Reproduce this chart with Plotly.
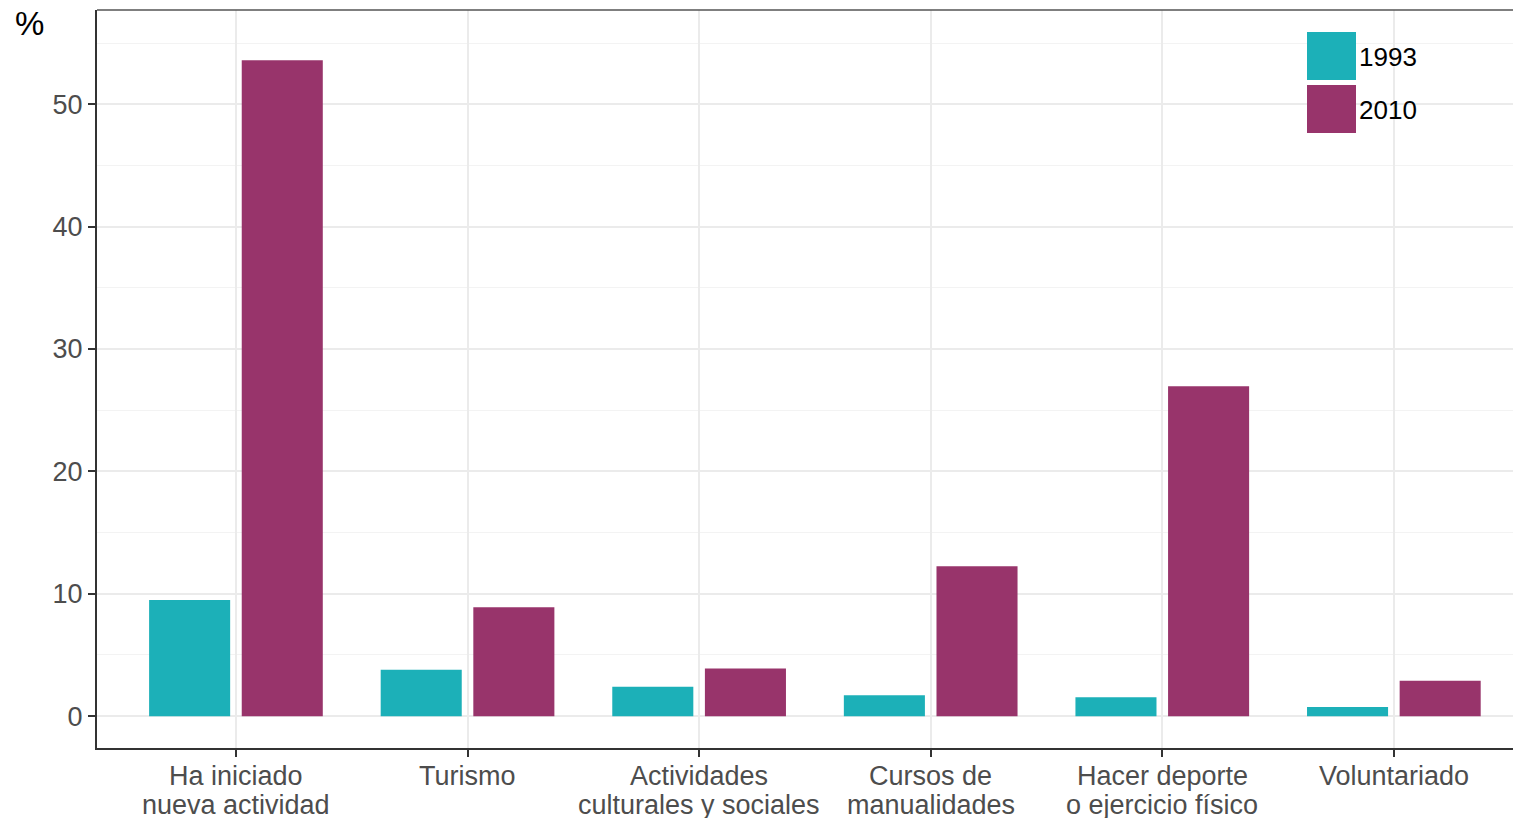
import plotly.graph_objects as go

# Datos
categorias = ['Ha iniciado\nnueva actividad', 'Turismo', 'Actividades\nculturales y sociales',
              'Cursos de\nmanualidades', 'Hacer deporte\no ejercicio físico', 'Voluntariado']
series = ['1993', '2010']
valores_1993 = [9.5, 3.8, 2.4, 1.7, 1.55, 0.75]
valores_2010 = [53.6, 8.9, 3.9, 12.25, 26.95, 2.9]
ticks_y = [0, 10, 20, 30, 40, 50]

COLOR_1993 = '#1cb0b8'
COLOR_2010 = '#98346b'
COLOR_GRID = '#ebebeb'
COLOR_MINOR = '#f3f3f3'
COLOR_AXIS = '#333333'
COLOR_TICK = '#4d4d4d'
FONT = 'Liberation Sans, Arial, sans-serif'

# el cuerpo de la pagina tiene un margen de 8px
W, H = 1513, 810
PLOT_L, PLOT_T, PLOT_W, PLOT_H = 97, 10, 1424, 738  # en pixeles de pantalla


def px_x(sx):
    return (sx - PLOT_L) / PLOT_W


def px_y(sy):
    return 1 - (sy - PLOT_T) / PLOT_H


fig = go.Figure()
for nombre, vals, color in [(series[0], valores_1993, COLOR_1993), (series[1], valores_2010, COLOR_2010)]:
    fig.add_trace(go.Bar(x=categorias, y=vals, name=nombre, marker=dict(color=color, line_width=0),
                         showlegend=False,
                         hovertemplate='%{y}<extra>' + nombre + '</extra>'))

fig.update_layout(
    width=W, height=H,
    margin=dict(l=PLOT_L - 8, r=0, t=PLOT_T - 8, b=H - (PLOT_T - 8) - PLOT_H),
    paper_bgcolor='white', plot_bgcolor='white',
    barmode='group', bargap=0.2, bargroupgap=0.125,
    font=dict(family=FONT, size=27, color=COLOR_TICK),
)

fig.update_xaxes(
    range=[-0.6, 5.549],
    showline=True, linecolor=COLOR_AXIS, linewidth=2,
    ticks='outside', ticklen=7, tickwidth=2, tickcolor=COLOR_AXIS,
    showgrid=True, gridcolor=COLOR_GRID, gridwidth=1.5,
    showticklabels=False,
)
fig.update_yaxes(
    range=[-2.6, 57.7],
    tickvals=ticks_y,
    showline=True, linecolor=COLOR_AXIS, linewidth=2,
    ticks='outside', ticklen=7, tickwidth=2, tickcolor=COLOR_AXIS,
    showgrid=True, gridcolor=COLOR_GRID, gridwidth=1.5,
    zeroline=False,
    minor=dict(dtick=5, tick0=5, showgrid=True, gridcolor=COLOR_MINOR, gridwidth=1),
    tickfont=dict(size=27, color=COLOR_TICK),
)

# Etiquetas del eje x en dos lineas (interlineado mas apretado que el de plotly)
for cat in categorias:
    for j, linea in enumerate(cat.split('\n')):
        fig.add_annotation(text=linea, x=cat, xref='x', yref='paper', y=0,
                           xanchor='center', yanchor='middle', showarrow=False,
                           yshift=-28 - 29 * j,
                           font=dict(size=27, color=COLOR_TICK))

# Borde superior del panel
fig.add_shape(type='line', xref='paper', yref='paper', x0=0, x1=1, y0=1, y1=1,
              line=dict(color='#555555', width=1.5), layer='above')

# Titulo del eje y
fig.add_annotation(text='%', xref='paper', yref='paper', x=px_x(29), y=px_y(24),
                   xanchor='center', yanchor='middle', showarrow=False,
                   font=dict(size=33, color='black'))

# Leyenda dibujada a mano (cuadros grandes como en ggplot)
fig.add_shape(type='rect', xref='paper', yref='paper',
              x0=px_x(1288), x1=px_x(1432), y0=px_y(155), y1=px_y(16),
              fillcolor='white', line_width=0, layer='between')
for i, (nombre, color) in enumerate([(series[0], COLOR_1993), (series[1], COLOR_2010)]):
    top = 32 + i * 53
    fig.add_shape(type='rect', xref='paper', yref='paper',
                  x0=px_x(1307), x1=px_x(1356), y0=px_y(top + 48), y1=px_y(top),
                  fillcolor=color, line_width=0, layer='above')
    fig.add_annotation(text=nombre, xref='paper', yref='paper',
                       x=px_x(1357), y=px_y(top + 25),
                       xanchor='left', yanchor='middle', showarrow=False,
                       font=dict(size=26, color='black'))

fig.write_html("out.html")
